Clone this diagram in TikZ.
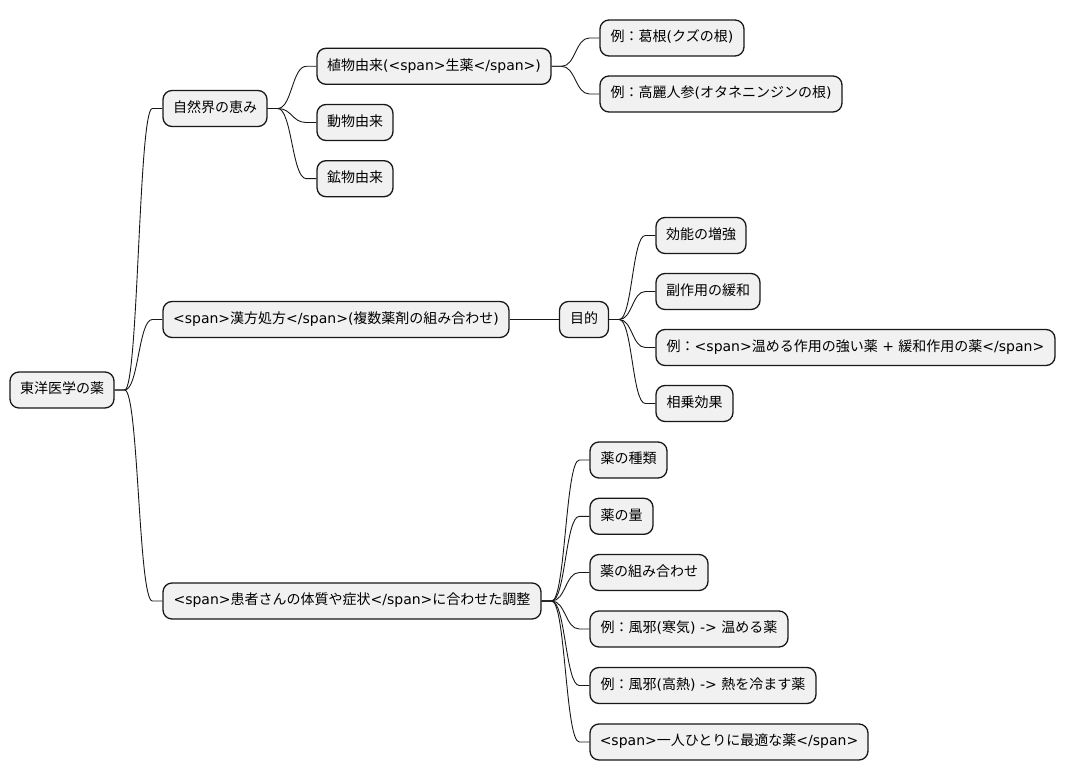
\documentclass[tikz,border=0pt]{standalone}
\usepackage{fontspec}
\setmainfont{DejaVu Sans}
\newfontfamily\jp{Noto Sans CJK JP}
\usetikzlibrary{calc}
\definecolor{boxfill}{HTML}{F1F1F1}
\definecolor{boxline}{HTML}{181818}
\tikzset{
  box/.style={draw=boxline, fill=boxfill, rounded corners=9pt, line width=1.3pt,
    minimum height=36pt, inner sep=0pt, text=black,
    font=\fontsize{14}{16}\selectfont, text height=10.5pt, text depth=3pt},
  link/.style={draw=boxline, line width=0.9pt}
}
\newcommand\conn[2]{%
  \draw[link] let \p1=(#1.east), \p2=(#2.west) in
    (\p1) -- (\x1+10pt,\y1) .. controls ({(\x1+\x2)/2},\y1) and ({(\x1+\x2)/2},\y2) .. (\x2-10pt,\y2) -- (\p2);}
\begin{document}
\begin{tikzpicture}[x=1pt,y=-1pt]
\useasboundingbox (0,0) rectangle (1066,781);
% root
\node[box, minimum width=104pt] (root) at (62,390) {{\jp 東洋医学の薬}};
% level 1
\node[box, minimum width=104pt] (n1) at (215,108.5) {{\jp 自然界の恵み}};
\node[box, minimum width=346pt] (n2) at (336,319.5) {<span>{\jp 漢方処方}</span>({\jp 複数薬剤の組み合わせ})};
\node[box, minimum width=378pt] (n3) at (352,601) {<span>{\jp 患者さんの体質や症状}</span>{\jp に合わせた調整}};
% level 2 under n1
\node[box, minimum width=234pt] (a1) at (434,66.3) {{\jp 植物由来}(<span>{\jp 生薬}</span>)};
\node[box, minimum width=76pt] (a2) at (355,122.5) {{\jp 動物由来}};
\node[box, minimum width=76pt] (a3) at (355,178.7) {{\jp 鉱物由来}};
% level 3 under a1
\node[box, minimum width=144pt] (d1) at (672,38) {{\jp 例：葛根}({\jp クズの根})};
\node[box, minimum width=242pt] (d2) at (721,94) {{\jp 例：高麗人参}({\jp オタネニンジンの根})};
% under n2
\node[box, minimum width=49pt] (b1) at (584,319.5) {{\jp 目的}};
\node[box, minimum width=90pt] (e1) at (701,235.5) {{\jp 効能の増強}};
\node[box, minimum width=104pt] (e2) at (708,291.5) {{\jp 副作用の緩和}};
\node[box, minimum width=399pt] (e3) at (855.5,347.5) {{\jp 例：}<span>{\jp 温める作用の強い薬} + {\jp 緩和作用の薬}</span>};
\node[box, minimum width=77pt] (e4) at (694.5,403.5) {{\jp 相乗効果}};
% under n3
\node[box, minimum width=77pt] (c1) at (628.5,460) {{\jp 薬の種類}};
\node[box, minimum width=63pt] (c2) at (621.5,516.3) {{\jp 薬の量}};
\node[box, minimum width=118pt] (c3) at (649,572.5) {{\jp 薬の組み合わせ}};
\node[box, minimum width=198pt] (c4) at (689,629) {{\jp 例：風邪}({\jp 寒気}) -> {\jp 温める薬}};
\node[box, minimum width=226pt] (c5) at (703,685.5) {{\jp 例：風邪}({\jp 高熱}) -> {\jp 熱を冷ます薬}};
\node[box, minimum width=278pt] (c6) at (729,742) {<span>{\jp 一人ひとりに最適な薬}</span>};
% connectors
\conn{root}{n1}\conn{root}{n2}\conn{root}{n3}
\conn{n1}{a1}\conn{n1}{a2}\conn{n1}{a3}
\conn{a1}{d1}\conn{a1}{d2}
\draw[link] (n2.east) -- (b1.west);
\conn{b1}{e1}\conn{b1}{e2}\conn{b1}{e3}\conn{b1}{e4}
\conn{n3}{c1}\conn{n3}{c2}\conn{n3}{c3}\conn{n3}{c4}\conn{n3}{c5}\conn{n3}{c6}
\end{tikzpicture}
\end{document}
